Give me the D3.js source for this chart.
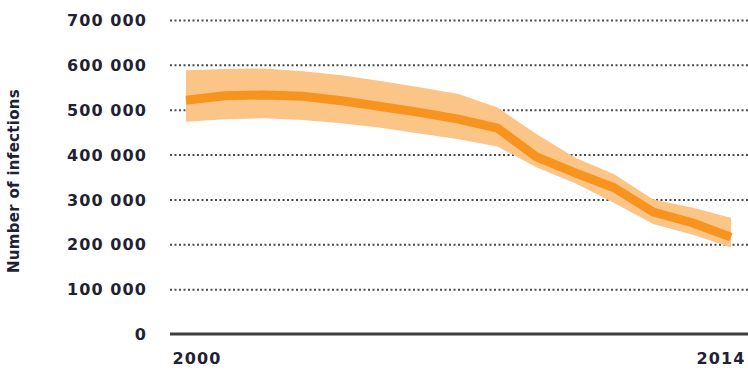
<!DOCTYPE html>
<html>
<head>
<meta charset="utf-8">
<script src="https://cdn.jsdelivr.net/npm/d3@7"></script>
<style>
  html, body { margin: 0; padding: 0; background: #fff; }
  svg { display: block; }
  .tick text { font-family: "DejaVu Sans", sans-serif; font-weight: bold; fill: #1f2233; }
</style>
</head>
<body>
<svg id="chart" width="748" height="371"></svg>
<script>
// Yearly estimates of new infections, with lower and upper bounds
const years = [2000, 2001, 2002, 2003, 2004, 2005, 2006, 2007, 2008, 2009, 2010, 2011, 2012, 2013, 2014];
const estimate = [521000, 531000, 533000, 530000, 520000, 507000, 494000, 479000, 459000, 395000, 359000, 326000, 272000, 248000, 216000];
const lower = [473000, 479000, 481000, 477000, 470000, 460000, 447000, 434000, 418000, 372000, 336000, 292000, 245000, 222000, 193000];
const upper = [588000, 591000, 592000, 586000, 577000, 564000, 550000, 535000, 505000, 446000, 393000, 356000, 300000, 282000, 259000];
const yTicks = [0, 100000, 200000, 300000, 400000, 500000, 600000, 700000];
const xTicks = [2000, 2014];
const yTitle = "Number of infections";

const svg = d3.select("#chart");
const x = d3.scaleLinear().domain([2000, 2014]).range([186, 731]);
const y = d3.scaleLinear().domain([0, 700000]).range([334, 20]);
const fmt = d3.formatLocale({ decimal: ".", thousands: " ", grouping: [3], currency: ["", ""] }).format(",d");

const gridLeft = 170, gridRight = 748;

// Dotted gridlines for every non-zero tick
svg.append("g")
  .attr("transform", `translate(${gridLeft},0)`)
  .call(d3.axisRight(y).tickValues(yTicks.filter(d => d > 0)).tickSize(gridRight - gridLeft).tickFormat(""))
  .call(g => g.select(".domain").remove())
  .call(g => g.selectAll("line")
    .attr("stroke", "#4a4a4a")
    .attr("stroke-width", 2)
    .attr("stroke-dasharray", "2,2.5"));

// Y tick labels
svg.append("g")
  .attr("transform", `translate(${gridLeft},0)`)
  .call(d3.axisLeft(y).tickValues(yTicks).tickSize(0).tickPadding(23).tickFormat(d => fmt(d)))
  .call(g => g.select(".domain").remove())
  .call(g => g.selectAll("text").attr("font-size", 16).attr("letter-spacing", "1.1px").attr("dy", "0.35em"));

// Uncertainty band
const area = d3.area()
  .x((d, i) => x(years[i]))
  .y0((d, i) => y(lower[i]))
  .y1((d, i) => y(upper[i]))
  .curve(d3.curveLinear);
svg.append("path")
  .datum(years)
  .attr("d", area)
  .attr("fill", "#fbc588");

// Central estimate
const line = d3.line()
  .x((d, i) => x(years[i]))
  .y((d) => y(d))
  .curve(d3.curveLinear);
svg.append("path")
  .datum(estimate)
  .attr("d", line)
  .attr("fill", "none")
  .attr("stroke", "#f7941f")
  .attr("stroke-width", 9)
  .attr("stroke-linejoin", "round");

// Baseline
svg.append("line")
  .attr("x1", gridLeft).attr("x2", gridRight)
  .attr("y1", y(0)).attr("y2", y(0))
  .attr("stroke", "#3f3f3f")
  .attr("stroke-width", 3);

// X axis labels (first and last year)
svg.append("g")
  .attr("transform", `translate(0,${y(0)})`)
  .call(d3.axisBottom(x).tickValues(xTicks).tickSize(0).tickPadding(19).tickFormat(d3.format("d")))
  .call(g => g.select(".domain").remove())
  .call(g => g.selectAll("text")
    .attr("font-size", 16)
    .attr("letter-spacing", "1.1px")
    .attr("text-anchor", d => d === 2000 ? "start" : "end")
    .attr("dx", d => d === 2000 ? -14 : 14));

// Y axis title
svg.append("text")
  .attr("transform", `translate(19,181) rotate(-90)`)
  .attr("text-anchor", "middle")
  .attr("font-family", "DejaVu Sans, sans-serif")
  .attr("font-weight", "bold")
  .attr("font-size", 15)
  .attr("letter-spacing", "0.3px")
  .attr("fill", "#1f2233")
  .text(yTitle);
</script>
</body>
</html>
